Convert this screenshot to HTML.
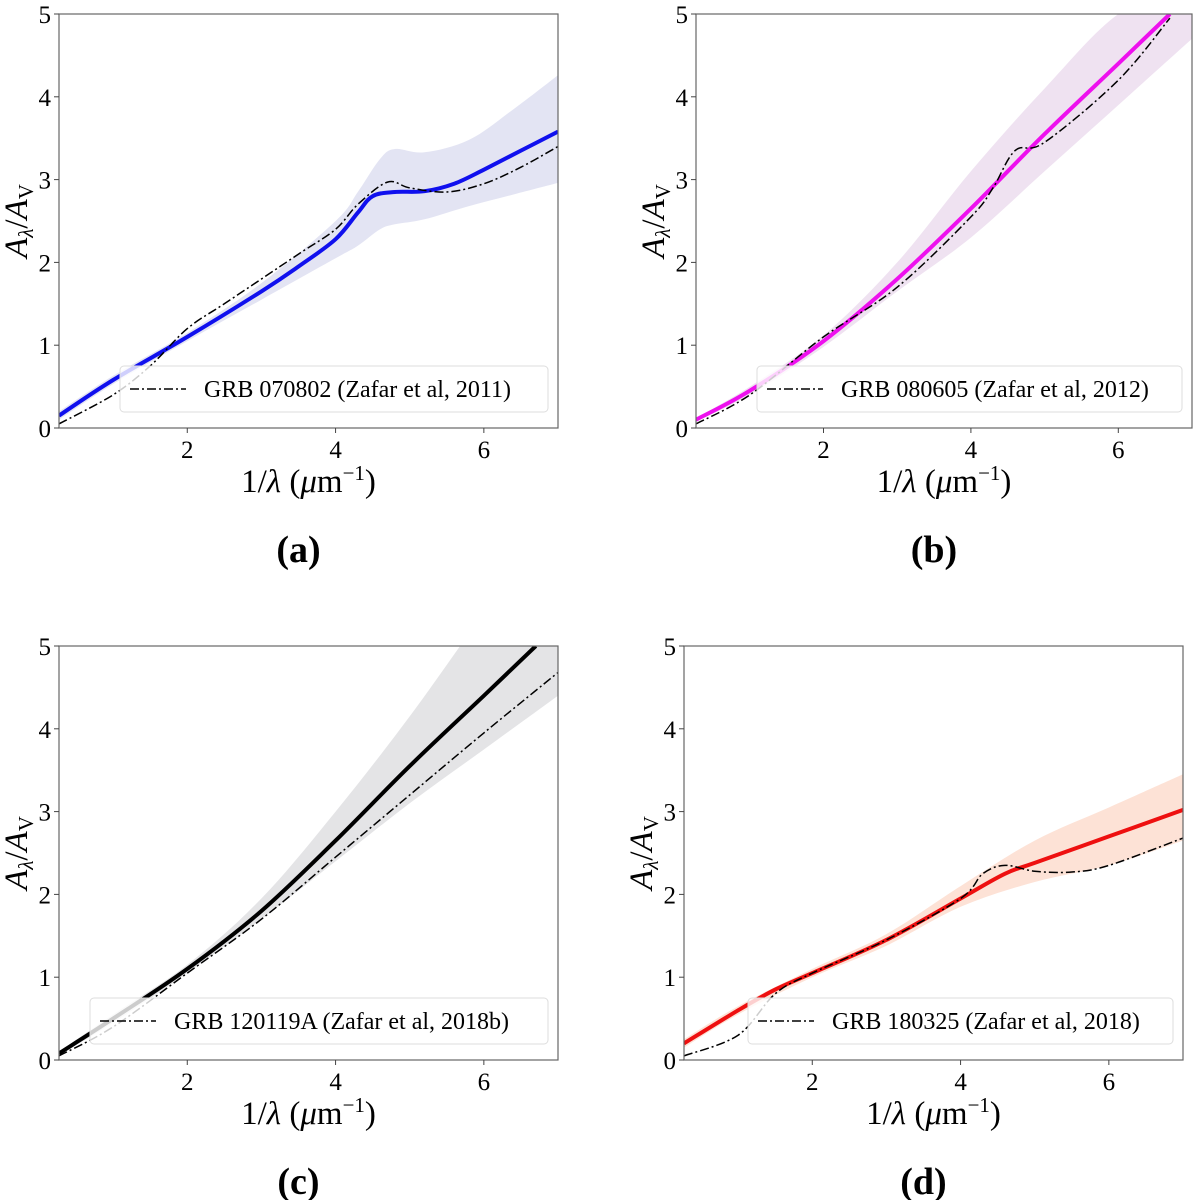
<!DOCTYPE html>
<html><head><meta charset="utf-8"><style>
body{margin:0;background:#fff;width:1200px;height:1200px;overflow:hidden}
svg{display:block}
text{font-family:"Liberation Serif","DejaVu Serif",serif;fill:#000}
</style></head><body>
<svg id="fig" width="1200" height="1200" viewBox="0 0 1200 1200" xmlns="http://www.w3.org/2000/svg"></svg>
<script>
// ---- data (panel a) ----
const aFitX=[0.27,1,2,3,3.5,4,4.3,4.5,4.8,5.2,5.6,6,6.5,7];
const aFitY=[0.15,0.58,1.1,1.65,1.95,2.28,2.6,2.8,2.85,2.86,2.95,3.12,3.35,3.58];
const aBandX=[0.27,1,2,3,4,4.3,4.6,4.8,5.2,5.8,6.4,7];
const aBandHi=[0.2,0.63,1.15,1.75,2.5,2.85,3.25,3.37,3.33,3.48,3.85,4.26];
const aBandLo=[0.1,0.53,1.05,1.55,2.05,2.2,2.4,2.46,2.52,2.68,2.82,2.96];
const aRefX=[0.27,1,1.5,2,2.5,3,3.5,4,4.3,4.7,5,5.5,6,6.5,7];
const aRefY=[0.05,0.4,0.75,1.2,1.5,1.8,2.1,2.4,2.7,2.97,2.9,2.85,2.95,3.15,3.4];
// ---- panel b ----
const bFitX=[0.27,1,2,3,4,5,6,6.7];
const bFitY=[0.1,0.45,1.05,1.8,2.65,3.55,4.4,5.0];
const bBandX=[0.27,1,2,3,4,5,6,7];
const bBandHi=[0.12,0.5,1.12,2.0,3.1,4.1,5.0,5.4];
const bBandLo=[0.08,0.4,0.98,1.65,2.3,3.1,3.9,4.7];
const bRefX=[0.27,1,2,3,4,4.3,4.6,5,6,6.7];
const bRefY=[0.05,0.4,1.1,1.7,2.55,2.9,3.35,3.45,4.2,4.95];
// ---- panel c ----
const cFitX=[0.27,1,2,3,4,5,6,6.7];
const cFitY=[0.08,0.5,1.1,1.8,2.65,3.55,4.4,5.0];
const cBandX=[0.27,1,2,3,4,5,6,7];
const cBandHi=[0.1,0.55,1.15,1.95,3.0,4.15,5.4,6.6];
const cBandLo=[0.06,0.45,1.05,1.7,2.4,3.1,3.75,4.4];
const cRefX=[0.27,1,2,3,4,5,6,7];
const cRefY=[0.05,0.4,1.05,1.7,2.45,3.2,3.95,4.68];
// ---- panel d ----
const dFitX=[0.27,1,1.5,2,3,4,4.6,5,6,7];
const dFitY=[0.2,0.6,0.85,1.05,1.45,1.95,2.25,2.38,2.7,3.02];
const dBandX=[0.27,1,2,3,4,5,6,7];
const dBandHi=[0.25,0.65,1.1,1.52,2.1,2.65,3.05,3.45];
const dBandLo=[0.15,0.55,1.0,1.38,1.85,2.15,2.35,2.65];
const dRefX=[0.27,1,1.5,2,3,4,4.3,4.6,5,5.5,6,7];
const dRefY=[0.05,0.3,0.8,1.05,1.45,1.95,2.25,2.35,2.28,2.27,2.35,2.68];
const xTicks=[2,4,6];
const yTicks=[0,1,2,3,4,5];

const NS='http://www.w3.org/2000/svg';
const fig=document.getElementById('fig');
function mk(tag,attrs,parent){const e=document.createElementNS(NS,tag);for(const k in attrs)e.setAttribute(k,attrs[k]);(parent||fig).appendChild(e);return e;}
function spline(pts){let d='M'+pts[0][0].toFixed(1)+','+pts[0][1].toFixed(1);
 for(let i=0;i<pts.length-1;i++){const p0=pts[i-1]||pts[i],p1=pts[i],p2=pts[i+1],p3=pts[i+2]||p2;
  const c1=[p1[0]+(p2[0]-p0[0])/6,p1[1]+(p2[1]-p0[1])/6],c2=[p2[0]-(p3[0]-p1[0])/6,p2[1]-(p3[1]-p1[1])/6];
  d+=' C'+c1[0].toFixed(1)+','+c1[1].toFixed(1)+' '+c2[0].toFixed(1)+','+c2[1].toFixed(1)+' '+p2[0].toFixed(1)+','+p2[1].toFixed(1);}
 return d;}
let clipN=0;
function panel(o){
 const L=o.left,R=o.right,T=o.top,B=o.bottom,xmin=0.27,xmax=7;
 const sx=v=>L+(v-xmin)/(xmax-xmin)*(R-L), sy=v=>B-v/5*(B-T);
 const g=mk('g',{});
 
 
 const id='clip'+(clipN++);
 const cp=mk('clipPath',{id:id},g);mk('rect',{x:L,y:T,width:R-L,height:B-T},cp);
 const pg=mk('g',{'clip-path':'url(#'+id+')'},g);
 const hi=o.bandX.map((x,i)=>[sx(x),sy(o.bandHi[i])]), lo=o.bandX.map((x,i)=>[sx(x),sy(o.bandLo[i])]).reverse();
 const band=mk('path',{d:spline(hi)+' L'+spline(lo).slice(1)+' Z',fill:o.band,stroke:'none'},pg);
 
 
 const fit=mk('path',{d:spline(o.fitX.map((x,i)=>[sx(x),sy(o.fitY[i])])),fill:'none',stroke:o.color,'stroke-width':4},pg);
 
 
 const ref=mk('path',{d:spline(o.refX.map((x,i)=>[sx(x),sy(o.refY[i])])),fill:'none',stroke:'#000','stroke-width':1.5,'stroke-dasharray':'9,3,2,3'},pg);
 
 
 // legend
 const lg=mk('g',{},g);
 
 
 mk('rect',{x:o.lx,y:B-62,width:R-10-o.lx,height:46,rx:4,fill:'rgba(255,255,255,0.8)',stroke:'#ddd','stroke-width':1},lg);
 mk('line',{x1:o.lx+10,x2:o.lx+66,y1:B-39,y2:B-39,stroke:'#000','stroke-width':1.5,'stroke-dasharray':'9,3,2,3'},lg);
 const lt=mk('text',{x:o.lx+84,y:B-31,'font-size':24},lg);lt.textContent=o.label;
 
 
 // frame
 mk('rect',{x:L,y:T,width:R-L,height:B-T,fill:'none',stroke:'#666','stroke-width':1.2},g);
 xTicks.forEach(v=>{mk('line',{x1:sx(v),x2:sx(v),y1:B,y2:B+5,stroke:'#444'},g);
  const t=mk('text',{x:sx(v),y:B+30,'font-size':25,'text-anchor':'middle'},g);t.textContent=v;
  
  });
 yTicks.forEach(v=>{mk('line',{x1:L-5,x2:L,y1:sy(v),y2:sy(v),stroke:'#444'},g);
  const t=mk('text',{x:L-8,y:sy(v)+9,'font-size':25,'text-anchor':'end'},g);t.textContent=v;
  
  });
 const xl=mk('text',{x:(L+R)/2,y:B+64,'font-size':33,'text-anchor':'middle'},g);
 xl.innerHTML='1/<tspan font-style="italic">λ</tspan> (<tspan font-style="italic">μ</tspan>m<tspan dy="-12" font-size="21">−1</tspan><tspan dy="12">)</tspan>';
 
 
 const yl=mk('text',{transform:'translate('+(L-32)+','+((T+B)/2)+') rotate(-90)','font-size':33,'text-anchor':'middle'},g);
 yl.innerHTML='<tspan font-style="italic">A</tspan><tspan font-style="italic" font-size="21" dy="6">λ</tspan><tspan dy="-6">/</tspan><tspan font-style="italic">A</tspan><tspan font-size="21" dy="6">V</tspan>';
 
 
 const pl=mk('text',{x:(L+R)/2-10,y:B+134,'font-size':38,'font-weight':'bold','text-anchor':'middle'},g);pl.textContent=o.tag;
 
 
}
panel({name:'panel-a',left:59,right:558,top:14,bottom:428,lx:120,color:'#1010ee',band:'#e3e4f3',label:'GRB 070802 (Zafar et al, 2011)',tag:'(a)',fitX:aFitX,fitY:aFitY,bandX:aBandX,bandHi:aBandHi,bandLo:aBandLo,refX:aRefX,refY:aRefY});
panel({name:'panel-b',left:696,right:1192,top:14,bottom:428,lx:757,color:'#ee10ee',band:'#efe2f1',label:'GRB 080605 (Zafar et al, 2012)',tag:'(b)',fitX:bFitX,fitY:bFitY,bandX:bBandX,bandHi:bBandHi,bandLo:bBandLo,refX:bRefX,refY:bRefY});
panel({name:'panel-c',left:59,right:558,top:646,bottom:1060,lx:90,color:'#000',band:'#e4e4e6',label:'GRB 120119A (Zafar et al, 2018b)',tag:'(c)',fitX:cFitX,fitY:cFitY,bandX:cBandX,bandHi:cBandHi,bandLo:cBandLo,refX:cRefX,refY:cRefY});
panel({name:'panel-d',left:684,right:1183,top:646,bottom:1060,lx:748,color:'#ee1010',band:'#fde2d6',label:'GRB 180325 (Zafar et al, 2018)',tag:'(d)',fitX:dFitX,fitY:dFitY,bandX:dBandX,bandHi:dBandHi,bandLo:dBandLo,refX:dRefX,refY:dRefY});
</script>
</body></html>
